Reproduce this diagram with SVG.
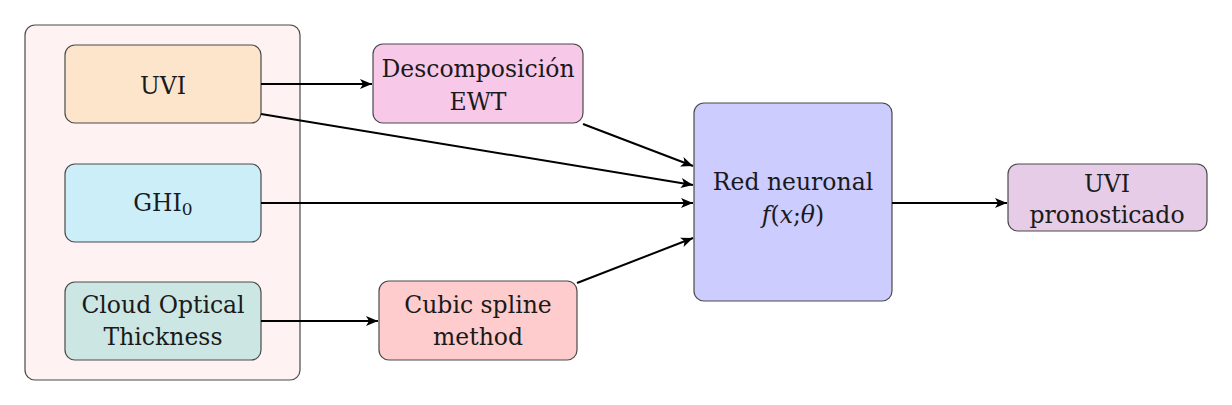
<svg xmlns="http://www.w3.org/2000/svg" width="1232" height="405" viewBox="0 0 1232 405">
<defs>
<marker id="arr" markerUnits="userSpaceOnUse" markerWidth="14" markerHeight="12" viewBox="0 0 14 12" refX="12" refY="6" orient="auto">
<path d="M0,1 L12,6 L0,11 L3,6 Z" fill="#000"/>
</marker>
</defs>
<style>
.box{stroke:#4a4a4a;stroke-width:1.2}
.t{font-family:"DejaVu Serif",serif;font-size:23.5px;fill:#1a1a1a;text-anchor:middle}
.c{stroke:#000;stroke-width:2;fill:none;marker-end:url(#arr)}
</style>
<rect id="container" x="25" y="25" width="275" height="355" rx="10" fill="#fff2f2" class="box"/>
<g id="uvi"><rect x="65" y="45" width="196" height="78" rx="10" fill="#fde5cc" class="box"/><text class="t" x="163" y="94">UVI</text></g>
<g id="ghi"><rect x="65" y="164" width="196" height="78" rx="10" fill="#cceef9" class="box"/><text class="t" x="163" y="211">GHI<tspan font-size="17" dy="4">0</tspan></text></g>
<g id="cot"><rect x="65" y="282" width="196" height="78" rx="10" fill="#cce6e3" class="box"/><text class="t" x="163" y="313">Cloud Optical</text><text class="t" x="163" y="345">Thickness</text></g>
<g id="ewt"><rect x="373" y="44" width="210" height="79" rx="10" fill="#f8c8e8" class="box"/><text class="t" x="478" y="77">Descomposición</text><text class="t" x="478" y="110">EWT</text></g>
<g id="spline"><rect x="379" y="281" width="198" height="79" rx="10" fill="#fecccc" class="box"/><text class="t" x="478" y="313">Cubic spline</text><text class="t" x="478" y="345">method</text></g>
<g id="nn"><rect x="694" y="103" width="198" height="198" rx="10" fill="#ccccff" class="box"/><text class="t" x="793" y="190">Red neuronal</text><text class="t" x="793" y="223"><tspan font-style="italic">f</tspan>(<tspan font-style="italic">x</tspan>;<tspan font-style="italic">θ</tspan>)</text></g>
<g id="out"><rect x="1008" y="164" width="199" height="67" rx="10" fill="#e6cce6" class="box"/><text class="t" x="1107" y="192">UVI</text><text class="t" x="1107" y="223">pronosticado</text></g>
<g id="connectors">
<line class="c" x1="261" y1="84" x2="372" y2="84"/>
<line class="c" x1="261" y1="114" x2="693" y2="185"/>
<line class="c" x1="583" y1="124" x2="693" y2="166"/>
<line class="c" x1="261" y1="203" x2="693" y2="203"/>
<line class="c" x1="577" y1="283" x2="693" y2="238"/>
<line class="c" x1="892" y1="203" x2="1007" y2="203"/>
<line class="c" x1="261" y1="321" x2="378" y2="321"/>
</g>
</svg>
